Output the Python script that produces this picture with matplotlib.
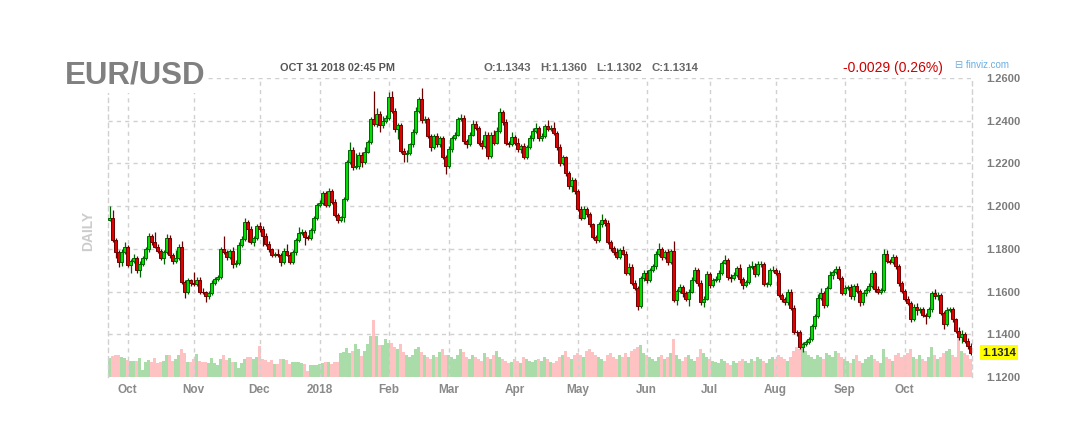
import matplotlib
matplotlib.use("Agg")
import matplotlib.pyplot as plt
import numpy as np
import pandas as pd

plt.rcParams['font.family'] = ['Liberation Sans', 'DejaVu Sans']

# EUR/USD daily closes, 22 Sep 2017 .. 31 Oct 2018, one row per month
closes = [
    1.1945, 1.1841, 1.1786, 1.1739, 1.1786, 1.1809,
    1.1723, 1.1745, 1.1758, 1.1703, 1.1730, 1.1756, 1.1797, 1.1858, 1.1831, 1.1811, 1.1790,
    1.1758, 1.1784, 1.1851, 1.1769, 1.1742, 1.1758, 1.1811, 1.1644, 1.1597, 1.1652, 1.1640,
    1.1635, 1.1656, 1.1600, 1.1597, 1.1578, 1.1594, 1.1640, 1.1660, 1.1669, 1.1797, 1.1784,
    1.1762, 1.1789, 1.1727, 1.1733, 1.1820, 1.1847, 1.1927, 1.1894, 1.1834, 1.1850, 1.1905,
    1.1893, 1.1862, 1.1822, 1.1797, 1.1772, 1.1776, 1.1771, 1.1737, 1.1792, 1.1773, 1.1740,
    1.1784, 1.1842, 1.1875, 1.1880, 1.1855, 1.1850, 1.1886, 1.1945, 1.2006,
    1.2015, 1.2060, 1.2006, 1.2070, 1.2021, 1.1960, 1.1934, 1.1948, 1.2034, 1.2205, 1.2263,
    1.2182, 1.2190, 1.2240, 1.2208, 1.2255, 1.2299, 1.2408, 1.2384, 1.2431, 1.2380, 1.2400, 1.2415,
    1.2509, 1.2446, 1.2363, 1.2380, 1.2258, 1.2243, 1.2251, 1.2289, 1.2348, 1.2446, 1.2502,
    1.2402, 1.2408, 1.2328, 1.2277, 1.2328, 1.2290, 1.2317, 1.2231, 1.2189,
    1.2266, 1.2320, 1.2335, 1.2408, 1.2412, 1.2305, 1.2290, 1.2335, 1.2385, 1.2366, 1.2297,
    1.2282, 1.2335, 1.2235, 1.2335, 1.2297, 1.2354, 1.2440, 1.2394, 1.2297, 1.2292, 1.2323,
    1.2297, 1.2266, 1.2282, 1.2231, 1.2277, 1.2319, 1.2353, 1.2366, 1.2319, 1.2327, 1.2374,
    1.2363, 1.2368, 1.2342, 1.2277, 1.2202, 1.2229, 1.2156, 1.2093, 1.2124, 1.2070,
    1.1988, 1.1946, 1.1988, 1.1961, 1.1915, 1.1855, 1.1843, 1.1915, 1.1936, 1.1922, 1.1832,
    1.1802, 1.1787, 1.1764, 1.1793, 1.1778, 1.1689, 1.1717, 1.1642, 1.1619, 1.1533, 1.1662, 1.1689,
    1.1653, 1.1700, 1.1718, 1.1775, 1.1798, 1.1762, 1.1785, 1.1738, 1.1789, 1.1561, 1.1603,
    1.1623, 1.1595, 1.1564, 1.1600, 1.1654, 1.1701, 1.1642, 1.1549, 1.1567, 1.1681,
    1.1630, 1.1654, 1.1657, 1.1688, 1.1735, 1.1747, 1.1670, 1.1664, 1.1679, 1.1712, 1.1657,
    1.1633, 1.1645, 1.1716, 1.1722, 1.1680, 1.1727, 1.1729, 1.1637, 1.1637, 1.1699, 1.1701,
    1.1688, 1.1583, 1.1567, 1.1549, 1.1600, 1.1521, 1.1412, 1.1409, 1.1340, 1.1355, 1.1365,
    1.1378, 1.1437, 1.1484, 1.1572, 1.1595, 1.1536, 1.1619, 1.1676, 1.1693, 1.1707, 1.1665, 1.1595,
    1.1618, 1.1621, 1.1577, 1.1626, 1.1603, 1.1549, 1.1592, 1.1608, 1.1626, 1.1688,
    1.1614, 1.1600, 1.1608, 1.1778, 1.1743, 1.1740, 1.1763, 1.1722, 1.1639, 1.1603,
    1.1567, 1.1546, 1.1471, 1.1526, 1.1513, 1.1518, 1.1490, 1.1487, 1.1518, 1.1595, 1.1577,
    1.1585, 1.1499, 1.1448, 1.1513, 1.1517, 1.1470, 1.1417, 1.1386, 1.1402, 1.1370, 1.1343, 1.1314,
]
first_open = 1.1936

# wick length in pips above the body / below the body
wick_up = [
    58, 39, 12, 10, 14, 25,
    10, 8, 20, 10, 12, 10, 14, 15, 10, 50, 12, 8, 10, 18, 12, 10, 35, 10, 27, 10, 10, 8,
    50, 12, 10, 15, 8, 10, 12, 10, 8, 12, 65, 10, 12, 20, 15, 10, 12, 18, 8, 12, 10, 10,
    20, 12, 10, 15, 8, 10, 25, 10, 12, 30, 10, 12, 10, 28, 12, 10, 10, 12, 10, 8,
    15, 12, 10, 15, 10, 12, 10, 8, 10, 10, 36, 12, 60, 15, 12, 20, 10, 8, 132, 30, 15, 20, 12,
    25, 30, 12, 10, 8, 12, 10, 8, 12, 20, 10, 49, 15, 10, 12, 10, 15, 10, 12, 10,
    15, 10, 12, 10, 20, 15, 10, 12, 20, 15, 10, 12, 15, 10, 12, 20, 15, 20, 10, 12, 10, 25,
    12, 20, 10, 15, 10, 12, 15, 25, 10, 15, 10, 30, 12, 28, 10, 12, 10, 8, 10, 12, 10,
    10, 12, 15, 10, 12, 8, 10, 12, 25, 10, 12, 10, 12, 15, 12, 20, 10, 15, 10, 12, 8, 10, 12,
    10, 12, 10, 15, 30, 12, 10, 15, 12, 50, 10, 12, 10, 8, 10, 12, 15, 10, 12, 10, 15,
    12, 10, 15, 12, 10, 25, 12, 10, 12, 10, 15, 12, 10, 12, 20, 10, 15, 12, 10, 8, 12, 20,
    10, 12, 10, 8, 12, 10, 15, 10, 12, 10, 8, 10, 12, 10, 15, 20, 10, 8, 20, 10, 15, 12, 10,
    12, 10, 15, 10, 12, 10, 8, 10, 12, 15, 10, 12, 10, 20, 15, 10, 12, 10, 8, 12,
    10, 12, 10, 15, 20, 10, 12, 10, 12, 10, 15, 12, 10, 8, 15, 12, 10, 8, 15, 20, 10, 12, 17,
]
wick_dn = [
    5, 8, 28, 24, 20, 8,
    10, 35, 12, 15, 35, 10, 8, 10, 12, 8, 10, 12, 28, 8, 10, 15, 10, 8, 10, 28, 10, 12,
    10, 8, 12, 10, 25, 12, 10, 8, 10, 8, 10, 12, 10, 15, 10, 8, 12, 10, 60, 12, 20, 10,
    12, 47, 10, 12, 10, 12, 10, 19, 10, 8, 12, 10, 12, 8, 10, 39, 10, 8, 10, 12,
    10, 8, 12, 10, 12, 10, 15, 8, 20, 10, 8, 12, 10, 15, 25, 10, 8, 10, 10, 12, 35, 12, 10,
    10, 12, 15, 50, 10, 38, 35, 12, 10, 8, 10, 12, 15, 10, 20, 10, 12, 15, 10, 38,
    10, 12, 10, 8, 10, 12, 20, 10, 8, 10, 12, 15, 10, 15, 10, 12, 8, 10, 12, 10, 15, 10,
    10, 12, 15, 10, 12, 10, 12, 10, 15, 12, 8, 10, 12, 10, 15, 12, 10, 15, 12, 25, 12,
    12, 10, 8, 10, 12, 10, 15, 10, 12, 15, 10, 12, 15, 10, 12, 8, 10, 12, 10, 12, 20, 10, 12,
    12, 10, 8, 12, 10, 15, 10, 12, 10, 8, 25, 12, 20, 10, 30, 8, 10, 15, 10, 20, 8,
    15, 10, 8, 12, 10, 8, 15, 20, 10, 12, 15, 20, 10, 8, 12, 10, 8, 10, 12, 15, 10, 8,
    12, 10, 15, 12, 10, 8, 10, 15, 10, 25, 10, 12, 8, 10, 8, 10, 12, 10, 8, 15, 10, 12, 10,
    10, 12, 10, 15, 10, 15, 10, 12, 10, 8, 15, 10, 12, 10, 8, 12, 10, 15, 12, 10,
    12, 10, 15, 10, 25, 12, 10, 40, 10, 12, 10, 15, 10, 25, 10, 8, 12, 10, 15, 25, 10, 12, 12,
]

# volume bar heights (relative units)
volume = [
    19, 21, 22, 22, 20, 19,
    17, 16, 16, 16, 19, 7, 15, 17, 15, 19, 14, 15, 16, 22, 22, 16, 18, 22, 28, 24, 15, 15,
    18, 23, 16, 15, 15, 14, 19, 14, 12, 18, 22, 17, 19, 15, 15, 9, 14, 18, 20, 20, 18, 20,
    31, 18, 17, 15, 17, 13, 13, 18, 18, 17, 13, 15, 15, 15, 14, 13, 6, 12, 12, 12,
    13, 14, 15, 15, 13, 15, 15, 24, 25, 29, 24, 26, 33, 28, 21, 26, 33, 41, 57, 41, 32, 32, 38,
    34, 34, 30, 28, 33, 25, 22, 20, 22, 28, 30, 25, 22, 20, 18, 22, 20, 25, 28, 22,
    22, 20, 18, 22, 28, 25, 20, 18, 22, 20, 18, 16, 24, 20, 18, 22, 26, 20, 18, 16, 14, 15,
    18, 16, 14, 20, 18, 16, 15, 17, 18, 16, 20, 18, 15, 14, 16, 20, 22, 26, 20, 18, 22,
    24, 22, 20, 26, 28, 25, 22, 20, 18, 16, 22, 24, 20, 18, 22, 20, 24, 20, 26, 28, 30, 32, 24,
    22, 20, 18, 16, 20, 22, 18, 20, 24, 38, 22, 18, 16, 20, 22, 18, 16, 20, 28, 24, 20,
    18, 16, 15, 14, 18, 16, 14, 12, 16, 14, 16, 18, 16, 14, 18, 16, 20, 18, 16, 14, 18, 20,
    18, 22, 20, 18, 16, 20, 26, 30, 28, 34, 26, 22, 20, 18, 22, 20, 18, 24, 22, 20, 26, 24, 20,
    18, 16, 14, 18, 22, 16, 14, 18, 20, 22, 18, 16, 14, 28, 20, 18, 16, 22, 24, 20,
    22, 24, 28, 20, 18, 22, 18, 16, 20, 30, 22, 18, 20, 24, 26, 28, 22, 20, 40, 26, 24, 22, 18,
]

month_labels = ['Oct', 'Nov', 'Dec', '2018', 'Feb', 'Mar', 'Apr', 'May', 'Jun',
                'Jul', 'Aug', 'Sep', 'Oct']
price_ticks = [1.12, 1.14, 1.16, 1.18, 1.20, 1.22, 1.24, 1.26]

dates = pd.bdate_range('2017-09-22', '2018-10-31')
dates = dates[dates != pd.Timestamp('2017-12-25')]

c = np.array(closes)
o = np.array([first_open] + closes[:-1])
hi = np.maximum(o, c) + np.array(wick_up) / 1e4
lo = np.minimum(o, c) - np.array(wick_dn) / 1e4
x = np.arange(len(c))
rising = c >= o

month_start = [i for i in range(1, len(dates)) if dates[i].month != dates[i - 1].month]

W, H = 1074, 447
fig = plt.figure(figsize=(W / 100, H / 100), dpi=100)
ax = fig.add_axes([108 / W, (H - 377) / H, 864 / W, 299 / H])
vax = ax.twinx()
ax.set_zorder(vax.get_zorder() + 1)
ax.patch.set_visible(False)

# volume
vax.bar(x, volume, width=1.0, color=np.where(rising, '#a9dca9', '#ffc2c2'), linewidth=0)
vax.set_ylim(0, 299)
vax.set_axis_off()

# candles
edge = np.where(rising, '#006400', '#6b0000')
face = np.where(rising, '#00dd00', '#e00000')
ax.vlines(x, lo, hi, colors=edge, linewidth=0.9, zorder=2)
body = np.maximum(np.abs(c - o), 0.0002)
ax.bar(x, body, bottom=np.minimum(o, c), width=0.72, color=face, edgecolor=edge,
       linewidth=0.7, zorder=3)

ax.set_xlim(-0.5, len(c) - 0.5)
ax.set_ylim(1.12, 1.26)

grid_kw = dict(color='#d0d0d0', linestyle=(0, (3, 3)), linewidth=1)
ax.set_yticks(price_ticks)
ax.set_yticklabels([f'{p:.4f}' for p in price_ticks])
ax.set_xticks(month_start)
ax.set_xticklabels(month_labels)
ax.grid(True, **grid_kw)
ax.set_axisbelow(True)
for s in ['top', 'bottom']:
    ax.spines[s].set_visible(False)
for s in ['left', 'right']:
    ax.spines[s].set_color('#d0d0d0')
    ax.spines[s].set_linestyle((0, (3, 3)))
    ax.spines[s].set_linewidth(1)

ax.yaxis.tick_right()
ax.tick_params(axis='y', length=0, pad=10, labelsize=8, labelcolor='#7c7c7c')
ax.tick_params(axis='x', length=0, pad=5, labelsize=8.5, labelcolor='#8a8a8a')
for t in ax.get_xticklabels() + ax.get_yticklabels():
    t.set_fontweight('bold')

# last price box
ax.text(1.0 + 10 / 864, c[-1], f'{c[-1]:.4f}', transform=ax.get_yaxis_transform(),
        ha='left', va='center', fontsize=8, fontweight='bold', color='#222222',
        bbox=dict(boxstyle='square,pad=0.2', fc='#ffff00', ec='none'), zorder=5)


def ftext(px, py, s, **kw):
    return fig.text(px / W, 1 - py / H, s, **kw)


ftext(65, 76, 'EUR/USD', fontsize=22.5, fontweight='bold', color='#808080', va='center',
      bbox=dict(boxstyle='square,pad=0.05', fc='white', ec='none'), zorder=10)
ftext(280, 68, 'OCT 31 2018 02:45 PM', fontsize=7.8, fontweight='bold', color='#555555', va='center')
ftext(483, 68, 'O:1.1343', fontsize=8.2, fontweight='bold', color='#666666', va='center')
ftext(540, 68, 'H:1.1360', fontsize=8.2, fontweight='bold', color='#666666', va='center')
ftext(596, 68, 'L:1.1302', fontsize=8.2, fontweight='bold', color='#666666', va='center')
ftext(651, 68, 'C:1.1314', fontsize=8.2, fontweight='bold', color='#666666', va='center')
ftext(843, 68, '-0.0029 (0.26%)', fontsize=10, color='#cc0000', va='center')
ftext(955, 65, '\u229f finviz.com', fontsize=7, color='#6aaee0', va='center')
ftext(88, 231, 'DAILY', fontsize=10, fontweight='bold', color='#cccccc',
      rotation=90, ha='center', va='center')

fig.savefig('out.png', dpi=100)
